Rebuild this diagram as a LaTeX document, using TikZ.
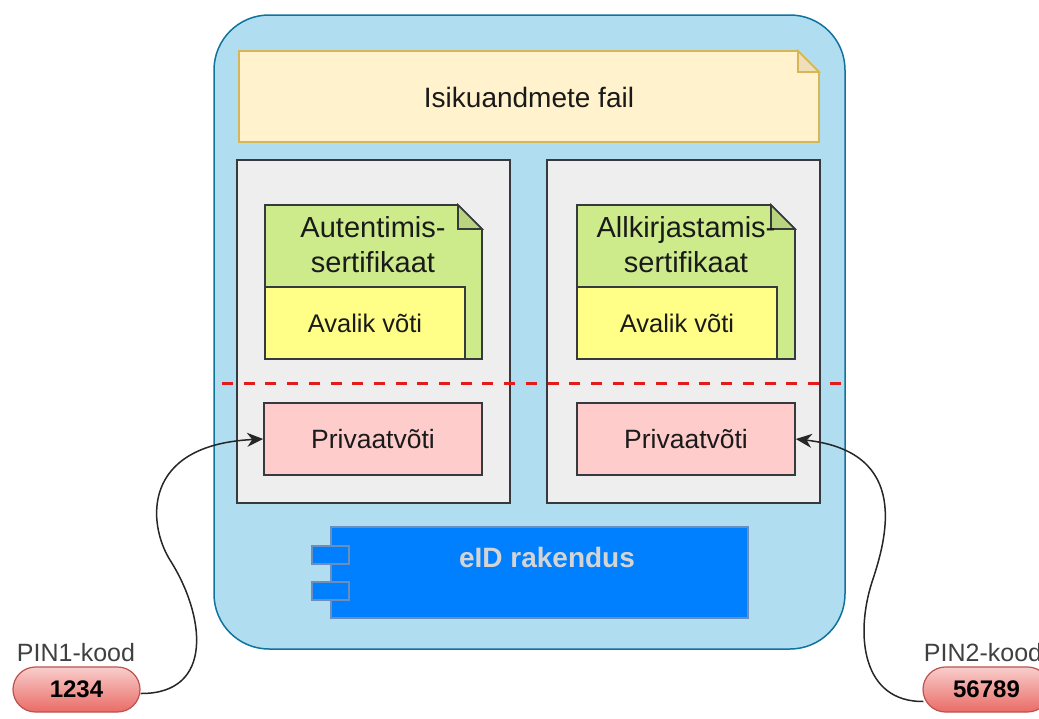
\documentclass[tikz,border=0pt]{standalone}
\usepackage{fontspec}
\setmainfont{Liberation Sans}
\usetikzlibrary{arrows.meta}

\definecolor{cardfill}{HTML}{B1DDF0}
\definecolor{cardline}{HTML}{10739E}
\definecolor{filefill}{HTML}{FFF2CC}
\definecolor{fileline}{HTML}{D6B656}
\definecolor{filefold}{HTML}{EEDFBA}
\definecolor{panelfill}{HTML}{EEEEEE}
\definecolor{darkline}{HTML}{36393D}
\definecolor{certfill}{HTML}{CDEB8B}
\definecolor{certfold}{HTML}{B9D47E}
\definecolor{keyfill}{HTML}{FFFF88}
\definecolor{privfill}{HTML}{FFCCCC}
\definecolor{appfill}{HTML}{007FFF}
\definecolor{appline}{HTML}{6C8EBF}
\definecolor{apptext}{HTML}{D4D4D4}
\definecolor{cutred}{HTML}{E31B1B}
\definecolor{inktext}{HTML}{1A1A1A}
\definecolor{labeltext}{HTML}{404040}
\definecolor{pintop}{HTML}{F8CECC}
\definecolor{pinbottom}{HTML}{EA6B66}
\definecolor{pinline}{HTML}{B85450}

\tikzset{
  card/.style={draw=cardline, fill=cardfill, line width=1.5pt, rounded corners=55pt, inner sep=0pt},
  panel/.style={draw=darkline, fill=panelfill, line width=1.6pt, inner sep=0pt},
  filenote/.style={draw=fileline, fill=filefill, line width=1.6pt, line join=miter},
  filecorner/.style={draw=fileline, fill=filefold, line width=1.6pt},
  certnote/.style={draw=darkline, fill=certfill, line width=1.6pt},
  certcorner/.style={draw=darkline, fill=certfold, line width=1.6pt},
  keybox/.style={draw=darkline, fill=keyfill, line width=1.6pt, inner sep=0pt,
    minimum width=200pt, minimum height=72pt, text=inktext, font=\fontsize{25.5}{30}\selectfont},
  privbox/.style={draw=darkline, fill=privfill, line width=1.6pt, inner sep=0pt,
    minimum width=218pt, minimum height=72pt, text=inktext, font=\fontsize{26.5}{32}\selectfont},
  certtitle/.style={align=center, text=inktext, inner sep=0pt, font=\fontsize{29}{35}\selectfont},
  filetitle/.style={text=inktext, inner sep=0pt, font=\fontsize{28}{33}\selectfont},
  divider/.style={draw=cutred, line width=3pt, dash pattern=on 11pt off 10.7pt},
  appbox/.style={draw=appline, fill=appfill, line width=1.4pt, inner sep=0pt},
  apptitle/.style={text=apptext, inner sep=0pt, font=\bfseries\fontsize{28}{33}\selectfont},
  pin/.style={draw=pinline, top color=pintop, bottom color=pinbottom, line width=1.2pt,
    rounded corners=22.5pt, minimum width=127pt, minimum height=45pt, inner sep=0pt,
    text=black, font=\bfseries\fontsize{24}{28}\selectfont},
  pinlabel/.style={text=labeltext, inner sep=0pt, font=\fontsize{25}{29}\selectfont},
  link/.style={draw=black!85, line width=1.5pt, -{Stealth[length=16pt, width=14pt, inset=5pt]}},
}

\begin{document}
\begin{tikzpicture}[x=1pt, y=-1pt]
\clip (0,0) rectangle (1039,718);

% smart card body
\node[card, minimum width=631pt, minimum height=634pt] (card) at (529.5,332) {};

% personal data file (folded note)
\draw[filenote] (239,51) -- (798,51) -- (819,72) -- (819,142) -- (239,142) -- cycle;
\draw[filecorner] (798,51) -- (798,72) -- (819,72) -- cycle;
\node[filetitle] (datafile) at (529,97) {Isikuandmete fail};

% two key containers
\node[panel, minimum width=273pt, minimum height=343pt] (authpanel) at (373.5,331.5) {};
\node[panel, minimum width=273pt, minimum height=343pt] (signpanel) at (683.5,331.5) {};

% certificates
\draw[certnote] (265,205) -- (458,205) -- (482,229) -- (482,359) -- (265,359) -- cycle;
\draw[certcorner] (458,205) -- (458,229) -- (482,229) -- cycle;
\node[certtitle] (authcert) at (373,245) {Autentimis-\\sertifikaat};

\draw[certnote] (577,205) -- (771,205) -- (795,229) -- (795,359) -- (577,359) -- cycle;
\draw[certcorner] (771,205) -- (771,229) -- (795,229) -- cycle;
\node[certtitle] (signcert) at (686,245) {Allkirjastamis-\\sertifikaat};

% public keys
\node[keybox] (authpub) at (365,323) {Avalik võti};
\node[keybox] (signpub) at (677,323) {Avalik võti};

% private keys
\node[privbox] (authpriv) at (373,439) {Privaatvõti};
\node[privbox] (signpriv) at (686,439) {Privaatvõti};

% boundary between readable and protected parts
\coordinate (cutL) at (222,383);
\coordinate (cutR) at (842,383);
\draw[divider] (cutL) -- (cutR);

% eID application component
\node[appbox, minimum width=417pt, minimum height=91pt] (app) at (539.5,572.5) {};
\node[appbox, minimum width=37pt, minimum height=18pt] (portA) at (330.5,555) {};
\node[appbox, minimum width=37pt, minimum height=18pt] (portB) at (330.5,591) {};
\node[apptitle] (apptext) at (547,557) {eID rakendus};

% PIN codes
\node[pinlabel] (pin1label) at (76,652.5) {PIN1-kood};
\node[pin] (pin1) at (76.5,689.5) {1234};
\node[pinlabel] (pin2label) at (983,652.5) {PIN2-kood};
\node[pin] (pin2) at (986.5,689.5) {56789};

% PIN unlocks the matching private key
\coordinate (bendL) at (170,560);
\coordinate (bendR) at (872,582);
\draw[link] ([shift={(0,4)}]pin1.east)
  .. controls (215,694) and (205,615) .. (bendL)
  .. controls (148,525) and (140,445) .. (authpriv.west);
\draw[link] ([shift={(1,12)}]pin2.west)
  .. controls (862,702) and (855,635) .. (bendR)
  .. controls (886,540) and (912,452) .. (signpriv.east);
\end{tikzpicture}
\end{document}
